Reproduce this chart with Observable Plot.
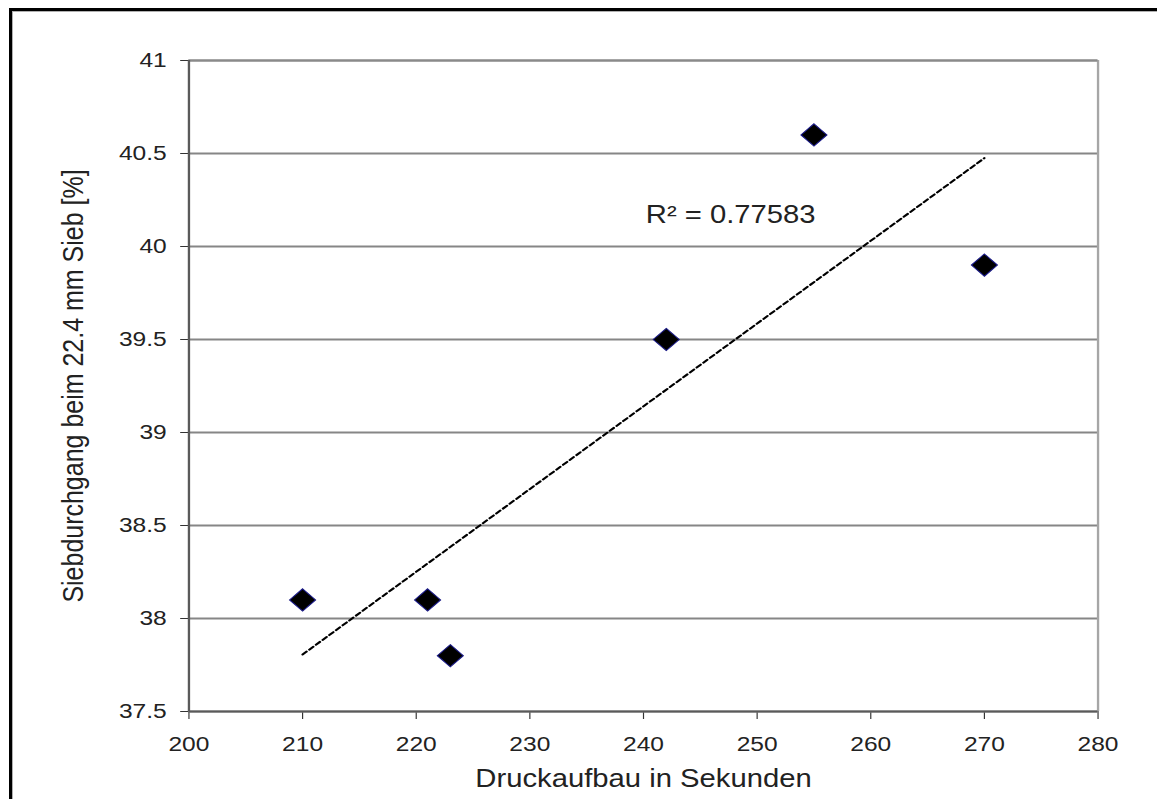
<!DOCTYPE html>
<html><head><meta charset="utf-8">
<script src="https://cdn.jsdelivr.net/npm/d3@7"></script>
<script src="https://cdn.jsdelivr.net/npm/@observablehq/plot@0.6"></script>
<style>
html,body{margin:0;padding:0;background:#fff;overflow:hidden;width:1157px;height:799px;}
#chart{position:absolute;left:0;top:0;transform-origin:0 0;transform:scaleX(1.17);}
#frame{position:absolute;left:9px;top:8px;width:1200px;height:900px;border:3px solid #000;box-shadow:inset 1px 1px 0 #b0b0b0;pointer-events:none;background:transparent;}
</style></head><body>
<div id="chart"></div>
<div id="frame"></div>
<script>
// Data
const seconds = [210, 221, 223, 242, 255, 270];
const passing = [38.1, 38.1, 37.8, 39.5, 40.6, 39.9];
const xTicks = [200, 210, 220, 230, 240, 250, 260, 270, 280];
const yTicks = [37.5, 38, 38.5, 39, 39.5, 40, 40.5, 41];
const xTitle = "Druckaufbau in Sekunden";
const yTitle = "Siebdurchgang beim 22.4 mm Sieb [%]";
const r2Anchor = {x: 240.2, y: 40.17};

const points = seconds.map((s, i) => ({s, p: passing[i]}));

// coefficient of determination of the linear fit
const mx = d3.mean(seconds), my = d3.mean(passing);
const sxy = d3.sum(seconds, (x, i) => (x - mx) * (passing[i] - my));
const sxx = d3.sum(seconds, x => (x - mx) ** 2);
const syy = d3.sum(passing, y => (y - my) ** 2);
const r2 = (sxy * sxy) / (sxx * syy);
const r2Text = "R\u00b2 = " + r2.toFixed(5);
const r2Label = [{x: r2Anchor.x, y: r2Anchor.y, t: r2Text}];

const chart = Plot.plot({
  width: 989,
  height: 799,
  marginLeft: 161,
  marginRight: 51,
  marginTop: 60,
  marginBottom: 88,
  style: {fontFamily: "'Liberation Sans', Arial, sans-serif", fontSize: "21px", color: "#333", background: "transparent"},
  x: {domain: [200, 280], ticks: xTicks, tickSize: 8, tickPadding: 17, label: xTitle, labelAnchor: "center", labelOffset: 75, labelArrow: false},
  y: {domain: [37.5, 41], ticks: yTicks, tickSize: 7, tickPadding: 12, tickFormat: d => String(d), label: yTitle, labelAnchor: "center", labelOffset: 108, labelArrow: false},
  marks: [
    Plot.gridY(yTicks, {stroke: "#868686", strokeOpacity: 1, strokeWidth: 2}),
    Plot.ruleX([280], {stroke: "#a6a6a6", strokeWidth: 2}),
    Plot.ruleY([41], {stroke: "#8a8a8a", strokeWidth: 2}),
    Plot.ruleX([200], {stroke: "#5a5a5a", strokeWidth: 2}),
    Plot.ruleY([37.5], {stroke: "#5a5a5a", strokeWidth: 2}),
    Plot.linearRegressionY(points, {x: "s", y: "p", ci: 0, stroke: "#000", strokeWidth: 2, strokeDasharray: "4.5,3"}),
    Plot.dot(points, {x: "s", y: "p", symbol: "diamond2", r: 10, fill: "#000", stroke: "#1c1c8a", strokeWidth: 1}),
    Plot.text(r2Label, {x: "x", y: "y", text: "t", textAnchor: "start", fontSize: 25, fill: "#222"})
  ]
});
document.getElementById("chart").appendChild(chart);
d3.select(chart).selectAll("text").each(function() {
  const t = this.textContent;
  const sel = d3.select(this);
  if (t.includes(xTitle) || t.includes(yTitle)) {
    sel.style("font-size", "25px").attr("fill", "#222");
  } else if (t !== r2Text) {
    sel.style("font-size", "21px").attr("fill", "#222");
  }
});
</script>
</body></html>
